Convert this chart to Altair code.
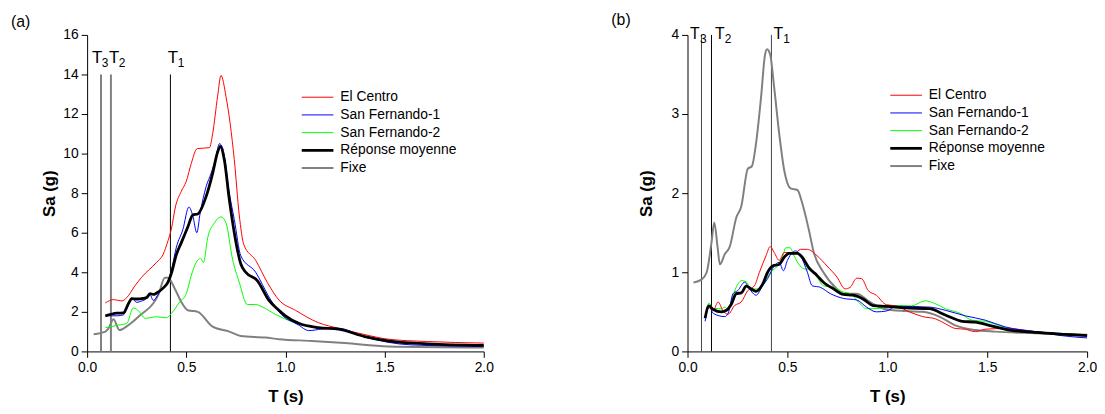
import altair as alt
import pandas as pd

SERIES = ["El Centro", "San Fernando-1", "San Fernando-2", "Réponse moyenne", "Fixe"]
COLORS = ["#ff0000", "#0000ff", "#00ff00", "#000000", "#808080"]
WIDTHS = [1.0, 1.0, 1.0, 2.8, 2.0]
DRAW_ORDER = ["Fixe", "San Fernando-2", "El Centro", "San Fernando-1", "Réponse moyenne"]
FONT = "Liberation Sans"

# ---------------- panel (a) ----------------
A_EC_T = [0.092, 0.133, 0.175, 0.2, 0.24, 0.275, 0.35, 0.383, 0.408, 0.425, 0.445, 0.475, 0.5, 0.525, 0.555,
          0.617, 0.633, 0.658, 0.675, 0.7, 0.742, 0.767, 0.79, 0.85, 0.908, 0.967, 1.05, 1.167, 1.267, 1.4,
          1.517, 1.717, 2.0]
A_EC = [2.45, 2.62, 2.55, 2.72, 3.3, 3.75, 4.5, 4.9, 5.6, 6.2, 7.3, 8.1, 8.6, 9.5, 10.25,
        10.3, 11.0, 12.9, 13.95, 12.9, 9.7, 6.9, 5.4, 4.6, 3.5, 2.6, 2.08, 1.45, 1.17, 0.85,
        0.62, 0.5, 0.42]

A_SF1_T = [0.092, 0.15, 0.183, 0.21, 0.225, 0.25, 0.275, 0.3, 0.317, 0.333, 0.367, 0.408, 0.425, 0.45, 0.483,
           0.513, 0.533, 0.553, 0.57, 0.6, 0.625, 0.65, 0.667, 0.683, 0.717, 0.742, 0.775, 0.85, 0.917, 0.967,
           1.067, 1.117, 1.183, 1.267, 1.4, 1.633, 2.0]
A_SF1 = [1.8, 1.8, 1.85, 2.4, 2.7, 2.48, 2.55, 2.67, 2.87, 2.58, 3.03, 3.58, 4.1, 5.27, 6.17,
         7.3, 6.85, 6.0, 7.0, 8.33, 9.0, 9.83, 10.5, 10.3, 8.0, 6.67, 4.83, 4.0, 2.75, 2.0,
         1.33, 1.05, 1.13, 1.17, 0.73, 0.33, 0.25]

A_SF2_T = [0.092, 0.158, 0.2, 0.233, 0.267, 0.292, 0.35, 0.4, 0.425, 0.467, 0.5, 0.525, 0.55, 0.572, 0.587,
           0.608, 0.642, 0.675, 0.7, 0.733, 0.767, 0.808, 0.85, 0.883, 0.95, 1.033, 1.15, 1.267, 1.4, 1.6, 2.0]
A_SF2 = [1.2, 1.33, 1.42, 2.2, 1.97, 1.67, 1.75, 1.7, 1.92, 2.5, 2.92, 3.83, 4.5, 4.7, 4.5,
         5.75, 6.5, 6.8, 6.5, 4.67, 3.5, 2.37, 2.37, 2.25, 1.87, 1.5, 1.22, 1.13, 0.75, 0.45, 0.3]

A_MEAN_T = [0.092, 0.15, 0.183, 0.21, 0.225, 0.25, 0.283, 0.3, 0.317, 0.333, 0.35, 0.383, 0.408, 0.425, 0.45,
            0.475, 0.508, 0.533, 0.558, 0.6, 0.633, 0.658, 0.672, 0.692, 0.717, 0.742, 0.775, 0.8, 0.858, 0.917,
            0.967, 1.0, 1.067, 1.167, 1.267, 1.4, 1.517, 1.717, 2.0]
A_MEAN = [1.8, 1.93, 1.95, 2.45, 2.67, 2.65, 2.68, 2.72, 2.92, 2.88, 2.95, 3.2, 3.5, 3.95, 4.9,
          5.5, 6.3, 6.9, 6.95, 7.83, 9.0, 10.08, 10.37, 9.67, 7.67, 6.0, 4.42, 4.0, 3.58, 2.58,
          2.08, 1.8, 1.42, 1.2, 1.13, 0.75, 0.53, 0.38, 0.3]

A_FIX_T = [0.033, 0.092, 0.108, 0.133, 0.163, 0.208, 0.267, 0.333, 0.358, 0.392, 0.408, 0.442, 0.475, 0.508,
           0.558, 0.633, 0.717, 0.775, 0.9, 0.967, 1.133, 1.3, 1.517, 2.0]
A_FIX = [0.87, 1.0, 1.17, 1.63, 1.08, 1.33, 1.83, 2.42, 2.83, 3.72, 3.72, 3.17, 2.5, 2.08,
         2.0, 1.25, 1.0, 0.78, 0.7, 0.62, 0.53, 0.42, 0.25, 0.2]

# ---------------- panel (b) ----------------
B_EC_T = [0.096, 0.12, 0.129, 0.153, 0.178, 0.203, 0.236, 0.269, 0.302, 0.335, 0.36, 0.393, 0.414, 0.434,
          0.459, 0.484, 0.508, 0.533, 0.566, 0.6, 0.648, 0.698, 0.748, 0.789, 0.814, 0.847, 0.871, 0.904,
          0.945, 0.995, 1.045, 1.11, 1.177, 1.243, 1.29, 1.34, 1.39, 1.44, 1.49, 1.59, 1.74, 1.886, 2.0]
B_EC = [0.52, 0.56, 0.52, 0.625, 0.51, 0.47, 0.58, 0.625, 0.77, 0.83, 1.0, 1.21, 1.325, 1.25,
        1.15, 1.25, 1.25, 1.23, 1.29, 1.29, 1.21, 1.08, 0.94, 0.79, 0.81, 0.925, 0.92, 0.77,
        0.71, 0.59, 0.575, 0.5, 0.44, 0.41, 0.35, 0.29, 0.28, 0.25, 0.28, 0.29, 0.25, 0.22, 0.21]

B_SF1_T = [0.088, 0.107, 0.129, 0.187, 0.203, 0.228, 0.252, 0.286, 0.31, 0.343, 0.376, 0.401, 0.434, 0.459,
           0.48, 0.5, 0.525, 0.54, 0.566, 0.6, 0.624, 0.665, 0.715, 0.78, 0.847, 0.896, 0.945, 0.995, 1.045,
           1.21, 1.29, 1.39, 1.49, 1.59, 1.74, 1.87, 2.0]
B_SF1 = [0.38, 0.575, 0.48, 0.44, 0.48, 0.73, 0.77, 0.875, 0.79, 0.71, 0.83, 0.92, 1.08, 1.125,
         1.02, 1.15, 1.25, 1.27, 1.21, 1.0, 0.83, 0.81, 0.73, 0.67, 0.65, 0.56, 0.5, 0.51, 0.57,
         0.56, 0.52, 0.45, 0.395, 0.31, 0.25, 0.2, 0.17]

B_SF2_T = [0.09, 0.107, 0.129, 0.17, 0.187, 0.205, 0.228, 0.252, 0.272, 0.294, 0.318, 0.351, 0.384, 0.417,
           0.45, 0.475, 0.492, 0.513, 0.533, 0.563, 0.59, 0.615, 0.648, 0.68, 0.73, 0.78, 0.814, 0.855, 0.896,
           0.929, 0.98, 1.045, 1.12, 1.19, 1.243, 1.29, 1.366, 1.424, 1.49, 1.556, 1.62, 1.74, 2.0]
B_SF2 = [0.42, 0.61, 0.54, 0.54, 0.56, 0.52, 0.71, 0.85, 0.895, 0.88, 0.79, 0.79, 0.875, 1.0,
         1.08, 1.19, 1.31, 1.31, 1.21, 1.08, 1.04, 1.04, 0.94, 0.83, 0.81, 0.75, 0.73, 0.625, 0.54,
         0.54, 0.55, 0.58, 0.575, 0.64, 0.6, 0.54, 0.48, 0.395, 0.38, 0.33, 0.28, 0.25, 0.21]

B_MEAN_T = [0.088, 0.107, 0.129, 0.17, 0.195, 0.22, 0.244, 0.269, 0.294, 0.318, 0.343, 0.376, 0.401, 0.426,
            0.459, 0.484, 0.508, 0.55, 0.574, 0.607, 0.648, 0.68, 0.731, 0.78, 0.83, 0.88, 0.929, 0.995,
            1.094, 1.21, 1.29, 1.375, 1.44, 1.51, 1.61, 1.74, 2.0]
B_MEAN = [0.42, 0.575, 0.53, 0.5, 0.52, 0.6, 0.73, 0.74, 0.825, 0.79, 0.76, 0.85, 1.0, 1.08,
          1.1, 1.19, 1.24, 1.24, 1.19, 1.06, 0.96, 0.875, 0.79, 0.72, 0.71, 0.66, 0.58, 0.57,
          0.55, 0.54, 0.46, 0.38, 0.37, 0.33, 0.27, 0.24, 0.2]

B_FIX_T = [0.03, 0.071, 0.096, 0.12, 0.134, 0.15, 0.162, 0.187, 0.211, 0.244, 0.269, 0.302, 0.322, 0.343,
           0.368, 0.388, 0.398, 0.414, 0.434, 0.459, 0.484, 0.516, 0.55, 0.574, 0.607, 0.632, 0.68, 0.748,
           0.78, 0.847, 0.912, 0.98, 1.09, 1.177, 1.26, 1.34, 1.44, 1.54, 1.74, 2.0]
B_FIX = [0.87, 0.91, 1.0, 1.375, 1.63, 1.33, 1.1, 1.23, 1.32, 1.69, 1.83, 2.31, 2.34, 2.63,
         3.21, 3.75, 3.82, 3.75, 3.33, 2.75, 2.29, 2.06, 2.04, 1.875, 1.54, 1.25, 1.0, 0.79,
         0.73, 0.73, 0.625, 0.54, 0.51, 0.5, 0.44, 0.33, 0.27, 0.25, 0.23, 0.21]

# vertical period markers: T3, T2, T1
PERIODS = [0.07, 0.12, 0.42]
PERIOD_NAMES = ["3", "2", "1"]
A_LABEL_T = [0.024, 0.11, 0.4065]
A_LABEL_Y = 14.6
A_LINE_TOP = 14
B_LABEL_T = [0.013, 0.137, 0.43]
B_LABEL_Y = 3.945
B_LINE_TOP = 4


def panel(curves, ymax, ystep, line_top, line_colors, line_widths, label_t, label_y,
          tfont, sfont, sub_dx, title, legx, legy, width, height, ytitle_pad):
    rows = []
    for name in DRAW_ORDER:
        ts, vs = curves[name]
        for t, v in zip(ts, vs):
            rows.append({"series": name, "T": t, "Sa": v})
    df = pd.DataFrame(rows)

    x_enc = alt.X("T:Q", scale=alt.Scale(domain=[0, 2], nice=False, zero=False),
                  axis=alt.Axis(values=[0, 0.5, 1, 1.5, 2], format=".1f", title="T (s)",
                                labelFlush=False, titlePadding=15))
    y_enc = alt.Y("Sa:Q", scale=alt.Scale(domain=[0, ymax], nice=False),
                  axis=alt.Axis(values=list(range(0, ymax + 1, ystep)), format="d", title="Sa (g)",
                                titlePadding=ytitle_pad))

    leg = alt.Legend(title=None, orient="none", legendX=legx, legendY=legy,
                     symbolType="M-4,0H4", symbolSize=64, labelOffset=16, rowPadding=3.9,
                     symbolStrokeWidth=1.6,
                     labelFontSize=14, labelFont=FONT, labelColor="black",
                     labelFontWeight="normal")

    lines = alt.Chart(df).mark_line(interpolate="monotone").encode(
        x=x_enc, y=y_enc,
        color=alt.Color("series:N", scale=alt.Scale(domain=SERIES, range=COLORS), legend=leg),
        strokeWidth=alt.StrokeWidth("series:N",
                                    scale=alt.Scale(type="ordinal", domain=SERIES, range=WIDTHS),
                                    legend=None),
    )

    layers = []
    for t, c, w in zip(PERIODS, line_colors, line_widths):
        rd = pd.DataFrame({"T": [t], "Sa": [0], "Sa2": [line_top]})
        layers.append(alt.Chart(rd).mark_rule(color=c, strokeWidth=w).encode(
            x=x_enc, y=y_enc, y2="Sa2:Q"))
    layers.append(lines)

    td = pd.DataFrame({"T": label_t, "Sa": [label_y] * 3, "sub": PERIOD_NAMES, "main": ["T"] * 3})
    layers.append(alt.Chart(td).mark_text(align="left", baseline="alphabetic", fontSize=tfont,
                                          font=FONT, color="black").encode(
        x=x_enc, y=y_enc, text="main:N"))
    layers.append(alt.Chart(td).mark_text(align="left", baseline="alphabetic", fontSize=sfont,
                                          font=FONT, color="black", dx=sub_dx, dy=4).encode(
        x=x_enc, y=y_enc, text="sub:N"))

    return alt.layer(*layers).properties(
        width=width, height=height,
        title=alt.TitleParams(title, anchor="start", frame="group", dx=-77, offset=-2,
                              fontSize=16, font=FONT, fontWeight="normal", color="black"))


left = panel({"El Centro": (A_EC_T, A_EC), "San Fernando-1": (A_SF1_T, A_SF1),
              "San Fernando-2": (A_SF2_T, A_SF2), "Réponse moyenne": (A_MEAN_T, A_MEAN),
              "Fixe": (A_FIX_T, A_FIX)},
             16, 2, A_LINE_TOP, ["#808080", "#808080", "#000000"], [2, 2, 1],
             A_LABEL_T, A_LABEL_Y, 17, 12, 10, "(a)", 226, 56, 401, 320, 4)

right = panel({"El Centro": (B_EC_T, B_EC), "San Fernando-1": (B_SF1_T, B_SF1),
               "San Fernando-2": (B_SF2_T, B_SF2), "Réponse moyenne": (B_MEAN_T, B_MEAN),
               "Fixe": (B_FIX_T, B_FIX)},
              4, 1, B_LINE_TOP, ["#444444", "#000000", "#444444"], [1, 1, 1],
              B_LABEL_T, B_LABEL_Y, 16, 12, 10, "(b)", 214, 54, 404, 320, 16)

chart = alt.hconcat(left, right, spacing=119).resolve_scale(
    color="independent", strokeWidth="independent", x="independent", y="independent"
).resolve_legend(color="independent").properties(
    padding={"left": 3, "top": 2, "right": 0, "bottom": 0}
).configure_view(stroke=None).configure_axis(
    grid=False, domainColor="black", tickColor="black", labelColor="black", titleColor="black",
    labelFont=FONT, titleFont=FONT, labelFontSize=14, titleFontSize=17, titleFontWeight="bold",
    tickSize=6, labelPadding=3, domainWidth=1, tickWidth=1
)

chart.save("out.html", embed_options={"renderer": "svg", "actions": False})
